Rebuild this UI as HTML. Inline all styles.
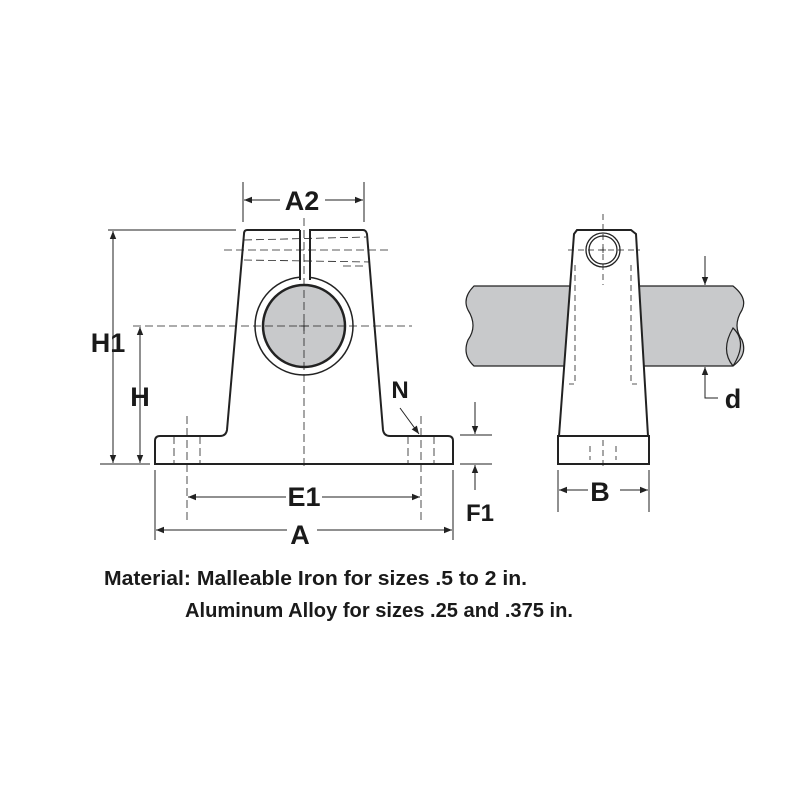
<!DOCTYPE html>
<html><head><style>body{margin:0;background:#fff}svg{display:block}</style></head><body>
<svg width="800" height="800" viewBox="0 0 800 800" xmlns="http://www.w3.org/2000/svg" font-family="'Liberation Sans Narrow','Liberation Sans',sans-serif" font-weight="bold">
<defs>
<marker id="ar" viewBox="0 0 10 10" refX="10" refY="5" markerWidth="11" markerHeight="8" orient="auto-start-reverse" markerUnits="userSpaceOnUse"><path d="M0,1 L10,5 L0,9 z" fill="#222"/></marker>
</defs>
<rect width="800" height="800" fill="#fff"/>
<g stroke="#222" fill="none" stroke-width="1">
<path d="M300,230 L247,230 Q244,230 244,234 L227,430 Q226,436 220,436 L160,436 Q155,436 155,441 L155,464 L453,464 L453,441 Q453,436 448,436 L390,436 Q384,436 383,430 L367,234 Q366,230 363,230 L310,230 L310,280" stroke-width="2" fill="#fff"/>
<line x1="300" y1="230" x2="300" y2="280" stroke-width="2"/>
<circle cx="304" cy="326" r="49" fill="#fff" stroke-width="1.5"/>
<rect x="300.5" y="262" width="9" height="22" fill="#fff" stroke="none"/>
<line x1="300" y1="262" x2="300" y2="280" stroke-width="2"/>
<line x1="310" y1="262" x2="310" y2="280" stroke-width="2"/>
<circle cx="304" cy="326" r="41" fill="#c8c9cb" stroke-width="2.5"/>
<path d="M299,326 h10 M304,321 v10" stroke-width="0.8"/>
<g stroke-dasharray="8,4" stroke-width="0.8">
<line x1="304" y1="218" x2="304" y2="470"/>
<line x1="133" y1="326" x2="412" y2="326"/>
<line x1="224" y1="250" x2="390" y2="250"/>
<path d="M244,240 L366,237 M244,260 L370,262 M343,266 L366,266"/>
<line x1="187" y1="416" x2="187" y2="520"/>
<line x1="421" y1="416" x2="421" y2="520"/>
<line x1="174" y1="436" x2="174" y2="464"/>
<line x1="200" y1="436" x2="200" y2="464"/>
<line x1="408" y1="436" x2="408" y2="464"/>
<line x1="434" y1="436" x2="434" y2="464"/>
</g>
<line x1="108" y1="230" x2="236" y2="230"/>
<line x1="100" y1="464" x2="150" y2="464"/>
<line x1="243" y1="182" x2="243" y2="222"/>
<line x1="364" y1="182" x2="364" y2="222"/>
<line x1="155" y1="470" x2="155" y2="540"/>
<line x1="453" y1="470" x2="453" y2="540"/>
<line x1="113" y1="231" x2="113" y2="463" marker-start="url(#ar)" marker-end="url(#ar)"/>
<line x1="140" y1="327" x2="140" y2="463" marker-start="url(#ar)" marker-end="url(#ar)"/>
<line x1="244" y1="200" x2="280" y2="200" marker-start="url(#ar)"/>
<line x1="325" y1="200" x2="363" y2="200" marker-end="url(#ar)"/>
<line x1="188" y1="497" x2="286" y2="497" marker-start="url(#ar)"/>
<line x1="322" y1="497" x2="420" y2="497" marker-end="url(#ar)"/>
<line x1="156" y1="530" x2="287" y2="530" marker-start="url(#ar)"/>
<line x1="317" y1="530" x2="452" y2="530" marker-end="url(#ar)"/>
<line x1="400" y1="408" x2="419" y2="434" marker-end="url(#ar)"/>
<line x1="460" y1="435" x2="492" y2="435"/>
<line x1="460" y1="464" x2="492" y2="464"/>
<line x1="475" y1="402" x2="475" y2="434" marker-end="url(#ar)"/>
<line x1="475" y1="490" x2="475" y2="465" marker-end="url(#ar)"/>
<path d="M474,286 L733,286 Q748,298 742,310 Q732,326 742,340 Q748,355 733,366 L474,366 Q462,355 468,340 Q478,326 468,310 Q462,298 474,286 Z" fill="#c8c9cb" stroke-width="1.2"/>
<path d="M733,366 Q720,350 733,328 Q748,342 733,366" fill="#c8c9cb" stroke-width="1.2"/>
<path d="M577,230 L631,230 L636,234 L648,436 L559,436 L574,234 Z" fill="#fff" stroke-width="2"/>
<rect x="558" y="436" width="91" height="28" fill="#fff" stroke-width="2"/>
<circle cx="603" cy="250" r="17" fill="#fff" stroke-width="1.3"/>
<circle cx="603" cy="250" r="14" stroke-width="1.3"/>
<path d="M600,250 h6 M603,247 v6" stroke-width="0.8"/>
<g stroke-dasharray="6,4" stroke-width="0.8">
<line x1="603" y1="214" x2="603" y2="285"/>
<line x1="568" y1="250" x2="640" y2="250"/>
<path d="M575,265 V384 H569 M631,265 V384 H637"/>
<line x1="603" y1="440" x2="603" y2="470"/>
<line x1="590" y1="446" x2="590" y2="460"/>
<line x1="616" y1="446" x2="616" y2="460"/>
</g>
<line x1="558" y1="470" x2="558" y2="512"/>
<line x1="649" y1="470" x2="649" y2="512"/>
<line x1="559" y1="490" x2="588" y2="490" marker-start="url(#ar)"/>
<line x1="620" y1="490" x2="648" y2="490" marker-end="url(#ar)"/>
<line x1="705" y1="256" x2="705" y2="285" marker-end="url(#ar)"/>
<path d="M705,397 L705,367" marker-end="url(#ar)"/>
<path d="M705,380 V398 H718"/>
</g>
<g fill="#1a1a1a" text-anchor="middle" font-size="27">
<text x="302" y="210">A2</text>
<text x="108" y="352">H1</text>
<text x="140" y="406">H</text>
<text x="304" y="506">E1</text>
<text x="300" y="544">A</text>
<text x="400" y="398" font-size="24">N</text>
<text x="480" y="521" font-size="24">F1</text>
<text x="600" y="501">B</text>
<text x="733" y="408">d</text>
</g>
<g fill="#1a1a1a" font-size="20">
<text x="104" y="585" textLength="423" lengthAdjust="spacingAndGlyphs">Material:  Malleable Iron for sizes .5 to 2 in.</text>
<text x="185" y="617" textLength="388" lengthAdjust="spacingAndGlyphs">Aluminum Alloy for sizes .25 and .375 in.</text>
</g>
</svg>
</body></html>
